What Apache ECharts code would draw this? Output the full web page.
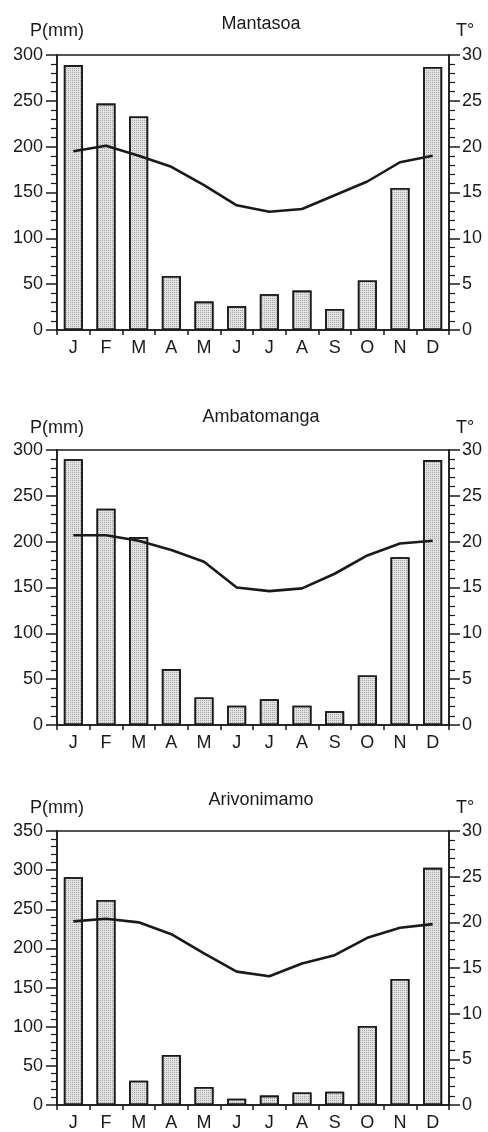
<!DOCTYPE html>
<html>
<head>
<meta charset="utf-8">
<title>Climate diagrams</title>
<script src="https://cdn.jsdelivr.net/npm/echarts@6/dist/echarts.min.js"></script>
<style>
  html, body { margin: 0; padding: 0; background: #fff; }
  #chart { width: 488px; height: 1132px; }
</style>
</head>
<body>
<div id="chart"></div>
<script>
var months = ['J', 'F', 'M', 'A', 'M', 'J', 'J', 'A', 'S', 'O', 'N', 'D'];
var stations = ['Mantasoa', 'Ambatomanga', 'Arivonimamo'];

// precipitation (mm)
var rainMantasoa = [289, 247, 233, 59, 31, 26, 39, 43, 23, 54, 155, 287];
var rainAmbatomanga = [290, 236, 205, 61, 30, 21, 28, 21, 15, 54, 183, 289];
var rainArivonimamo = [291, 262, 31, 64, 23, 8, 12, 16, 17, 101, 161, 303];

// temperature (°C)
var tempMantasoa = [19.5, 20.1, 19.0, 17.8, 15.8, 13.6, 12.9, 13.2, 14.7, 16.2, 18.3, 19.0];
var tempAmbatomanga = [20.7, 20.7, 20.1, 19.1, 17.8, 15.0, 14.6, 14.9, 16.5, 18.5, 19.8, 20.1];
var tempArivonimamo = [20.1, 20.4, 20.0, 18.7, 16.6, 14.6, 14.1, 15.5, 16.4, 18.3, 19.4, 19.8];

var rainMax = [300, 300, 350];
var rainTicks = [['0', '50', '100', '150', '200', '250', '300'],
                 ['0', '50', '100', '150', '200', '250', '300'],
                 ['0', '50', '100', '150', '200', '250', '300', '350']];
var tempTicks = ['0', '5', '10', '15', '20', '25', '30'];

var rains = [rainMantasoa, rainAmbatomanga, rainArivonimamo];
var temps = [tempMantasoa, tempAmbatomanga, tempArivonimamo];

var font = 'Liberation Sans, Arial, Helvetica, sans-serif';
var ink = '#1a1a1a';
var fs = 18;

var gridTops = [55, 450, 831];
var titleTops = [10, 403, 786];
var nameGaps = [15, 13, 14];

var myChart = echarts.init(document.getElementById('chart'), null, { renderer: 'canvas' });

var option = {
    backgroundColor: '#fff',
    animation: false,
    title: [],
    grid: [],
    xAxis: [],
    yAxis: [],
    series: []
};

for (var i = 0; i < 3; i++) {
    option.title.push({
        text: stations[i],
        left: 256,
        top: titleTops[i],
        textAlign: 'center',
        textStyle: { fontFamily: font, fontSize: fs, fontWeight: 'normal', color: ink }
    });
    option.grid.push({
        left: 57,
        right: 39,
        top: gridTops[i],
        height: 275,
        show: true,
        borderColor: ink,
        borderWidth: 1.5,
        backgroundColor: 'transparent'
    });
    option.xAxis.push({
        type: 'category',
        gridIndex: i,
        data: months,
        boundaryGap: true,
        axisLine: { lineStyle: { color: ink, width: 1.5 } },
        axisTick: { show: true, interval: 0, length: 5, lineStyle: { color: ink, width: 1.5 } },
        axisLabel: { interval: 0, margin: 9, fontFamily: font, fontSize: fs, color: ink }
    });
    // left axis: precipitation
    option.yAxis.push({
        type: 'value',
        gridIndex: i,
        position: 'left',
        min: 0,
        max: rainMax[i],
        interval: 50,
        name: 'P(mm)',
        nameLocation: 'end',
        nameGap: nameGaps[i],
        nameTextStyle: { fontFamily: font, fontSize: fs, color: ink },
        splitLine: { show: false },
        axisLine: { show: true, lineStyle: { color: ink, width: 1.5 } },
        axisTick: { show: true, length: 11, lineStyle: { color: ink, width: 1.5 } },
        minorTick: { show: true, splitNumber: 5, length: 6, lineStyle: { color: ink, width: 1.2 } },
        axisLabel: {
            margin: 14, fontFamily: font, fontSize: fs, color: ink,
            formatter: (function (labels) {
                return function (v) { return labels[Math.round(v / 50)]; };
            })(rainTicks[i])
        }
    });
    // right axis: temperature
    option.yAxis.push({
        type: 'value',
        gridIndex: i,
        position: 'right',
        min: 0,
        max: 30,
        interval: 5,
        name: 'T°',
        nameLocation: 'end',
        nameGap: nameGaps[i],
        nameTextStyle: { fontFamily: font, fontSize: fs, color: ink, align: 'left', padding: [0, 0, 0, 7] },
        splitLine: { show: false },
        axisLine: { show: true, lineStyle: { color: ink, width: 1.5 } },
        axisTick: { show: true, length: 11, lineStyle: { color: ink, width: 1.5 } },
        minorTick: { show: true, splitNumber: 5, length: 6, lineStyle: { color: ink, width: 1.2 } },
        axisLabel: {
            margin: 13, fontFamily: font, fontSize: fs, color: ink,
            formatter: function (v) { return tempTicks[Math.round(v / 5)]; }
        }
    });
    option.series.push({
        type: 'bar',
        name: 'P',
        xAxisIndex: i,
        yAxisIndex: i * 2,
        data: rains[i],
        barWidth: 19,
        itemStyle: {
            color: '#e2e2e2',
            borderColor: ink,
            borderWidth: 1.6,
            decal: {
                symbol: 'rect',
                symbolSize: 1,
                color: 'rgba(60,60,60,0.35)',
                dashArrayX: [1, 1],
                dashArrayY: [1, 1],
                rotation: 0
            }
        }
    });
    option.series.push({
        type: 'line',
        name: 'T',
        xAxisIndex: i,
        yAxisIndex: i * 2 + 1,
        data: temps[i],
        symbol: 'none',
        smooth: false,
        lineStyle: { color: ink, width: 2.6 },
        z: 5
    });
}

myChart.setOption(option);

window.onresize = function () {
    myChart.resize();
};
</script>
</body>
</html>
